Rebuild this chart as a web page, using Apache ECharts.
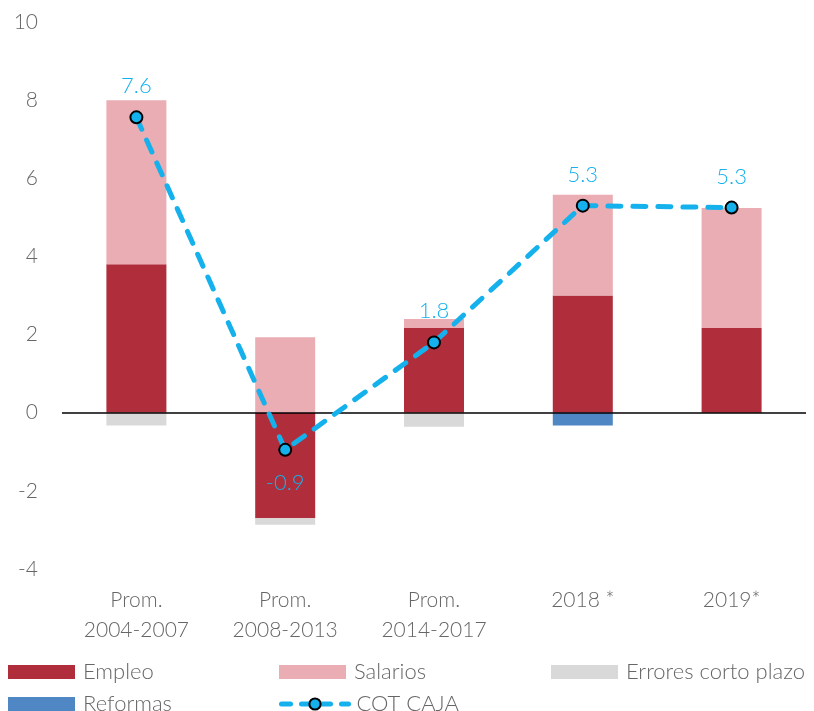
<!DOCTYPE html>
<html>
<head>
<meta charset="utf-8">
<script src="https://cdn.jsdelivr.net/npm/echarts@6/dist/echarts.min.js"></script>
<style>
  html, body { margin: 0; padding: 0; background: #fff; }
  #chart { width: 814px; height: 711px; }
</style>
</head>
<body>
<div id="chart"></div>
<script>
// datos
const categorias = ['Prom.\n2004-2007', 'Prom.\n2008-2013', 'Prom.\n2014-2017', '2018 *', '2019*'];
const empleo = [3.8, -2.7, 2.17, 3.0, 2.17];
const salarios = [4.2, 1.93, 0.23, 2.58, 3.07];
const errores = [-0.33, -0.17, -0.36, null, null];
const reformas = [null, null, null, -0.33, null];
const cotCaja = [7.56, -0.95, 1.8, 5.3, 5.25];

const gris = '#666666';
const fuente = 'Lato, "Open Sans", sans-serif';
const azul = '#14b1ec';

const chart = echarts.init(document.getElementById('chart'));

function leyenda(nombre, left, top, icono) {
  const item = { name: nombre };
  if (icono) item.icon = icono;
  else item.lineStyle = { width: 5, type: [9, 11], cap: 'round' };
  return {
    data: [item],
    left: left,
    top: top,
    itemWidth: 67,
    itemHeight: 14,
    padding: 0,
    itemGap: 0,
    textStyle: { color: gris, fontSize: 22, fontFamily: fuente, fontWeight: 300, lineHeight: 22, padding: [0, 0, 0, 3] }
  };
}

const option = {
  animation: false,
  backgroundColor: '#fff',
  grid: { left: 62, right: 8, top: 22, bottom: 142 },
  legend: [
    leyenda('Empleo', 8, 661, 'rect'),
    leyenda('Salarios', 279, 661, 'rect'),
    leyenda('Errores corto plazo', 551, 661, 'rect'),
    leyenda('Reformas', 8, 693, 'rect'),
    leyenda('COT CAJA', 279, 693)
  ],
  xAxis: {
    type: 'category',
    data: categorias,
    axisLine: { show: false },
    axisTick: { show: false },
    axisLabel: { color: gris, fontSize: 21, fontFamily: fuente, fontWeight: 300, lineHeight: 30, margin: 16 }
  },
  yAxis: {
    type: 'value',
    min: -4,
    max: 10,
    interval: 2,
    axisLine: { show: false },
    axisTick: { show: false },
    splitLine: { show: false },
    axisLabel: { color: gris, fontSize: 21, fontFamily: fuente, fontWeight: 300, margin: 24 }
  },
  series: [
    {
      name: 'Empleo', type: 'bar', stack: 'total', data: empleo, barWidth: 60,
      itemStyle: { color: '#b02e3b' },
      markLine: {
        silent: true, symbol: 'none', label: { show: false },
        lineStyle: { color: '#000', width: 1.5, type: 'solid' },
        data: [{ yAxis: 0 }]
      }
    },
    { name: 'Salarios', type: 'bar', stack: 'total', data: salarios, barWidth: 60, itemStyle: { color: '#e9adb3' } },
    { name: 'Errores corto plazo', type: 'bar', stack: 'total', data: errores, barWidth: 60, itemStyle: { color: '#d9d9d9' } },
    { name: 'Reformas', type: 'bar', stack: 'total', data: reformas, barWidth: 60, itemStyle: { color: '#4f86c4' } },
    {
      name: 'COT CAJA', type: 'line', z: 5,
      data: cotCaja.map((v, i) => i === 1 ? { value: v, label: { position: 'bottom', distance: 15 } } : v),
      symbol: 'circle', symbolSize: 12,
      itemStyle: { color: azul, borderColor: '#000', borderWidth: 2 },
      lineStyle: { color: azul, width: 5, type: [13, 12], cap: 'round' },
      label: {
        show: true, position: 'top', distance: 13,
        color: azul, fontSize: 22, fontFamily: fuente, fontWeight: 300, lineHeight: 22,
        formatter: p => p.value.toFixed(1)
      }
    }
  ]
};

chart.setOption(option);
</script>
</body>
</html>
